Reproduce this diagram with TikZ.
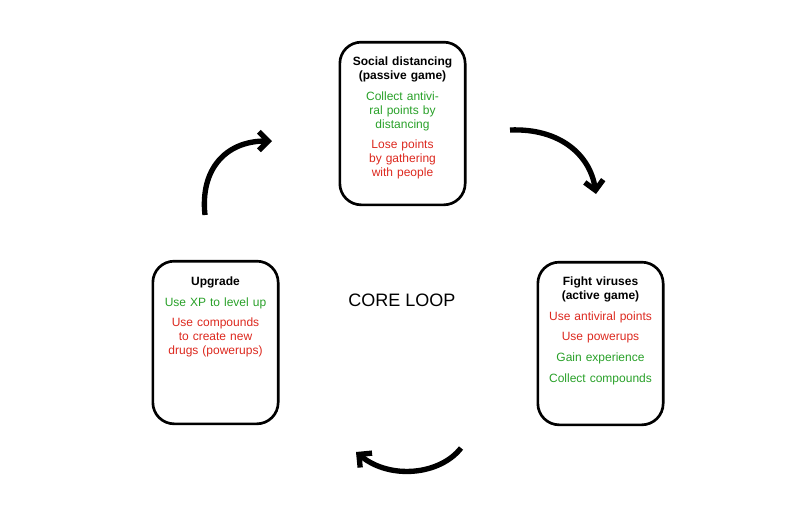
\documentclass[tikz,border=0pt]{standalone}
\usepackage{fontspec}
\setmainfont{Liberation Sans}
\usetikzlibrary{arrows.meta}
\definecolor{gr}{RGB}{40,160,40}
\definecolor{rd}{RGB}{220,40,30}
\begin{document}
\begin{tikzpicture}[x=0.75pt,y=-0.75pt,
 box/.style={draw,line width=2pt,rounded corners=16pt,minimum width=94pt,minimum height=122pt},
 txt/.style={align=center,font=\fontsize{9}{10.5}\selectfont,text width=80pt},
 arr/.style={line width=4pt,-{Straight Barb[length=7pt,width=14pt]}}]
\useasboundingbox (0,0) rectangle (806,504);
\node[box] (top) at (402.5,123.5) {};
\node[box] (right) at (600.5,343.5) {};
\node[box] (left) at (215.5,342.5) {};
\node[txt,anchor=north] (tt) at (402.5,52) {\textbf{Social distancing (passive game)}\\[5pt]
 \textcolor{gr}{Collect antiviral points by distancing}\\[5pt]
 \textcolor{rd}{Lose points by gathering with people}};
\node[txt,anchor=north] (rt) at (600.5,272) {\textbf{Fight viruses (active game)}\\[5pt]
 \textcolor{rd}{Use antiviral points}\\[5pt]
 \textcolor{rd}{Use powerups}\\[5pt]
 \textcolor{gr}{Gain experience}\\[5pt]
 \textcolor{gr}{Collect compounds}};
\node[txt,anchor=north] (lt) at (215.5,272) {\textbf{Upgrade}\\[5pt]
 \textcolor{gr}{Use XP to level up}\\[5pt]
 \textcolor{rd}{Use compounds to create new drugs (powerups)}};
\node[font=\fontsize{13.5}{15}\selectfont] (core) at (402,300) {CORE LOOP};
\coordinate (a1) at (510,130); \coordinate (a2) at (596,194);
\coordinate (b1) at (461,448); \coordinate (b2) at (356,452);
\coordinate (c1) at (205,215); \coordinate (c2) at (272,141);
\draw[arr] (a1) .. controls (560,128) and (590,155) .. (a2);
\draw[arr] (b1) .. controls (440,475) and (390,480) .. (b2);
\draw[arr] (c1) .. controls (200,170) and (225,141) .. (c2);
\end{tikzpicture}
\end{document}
